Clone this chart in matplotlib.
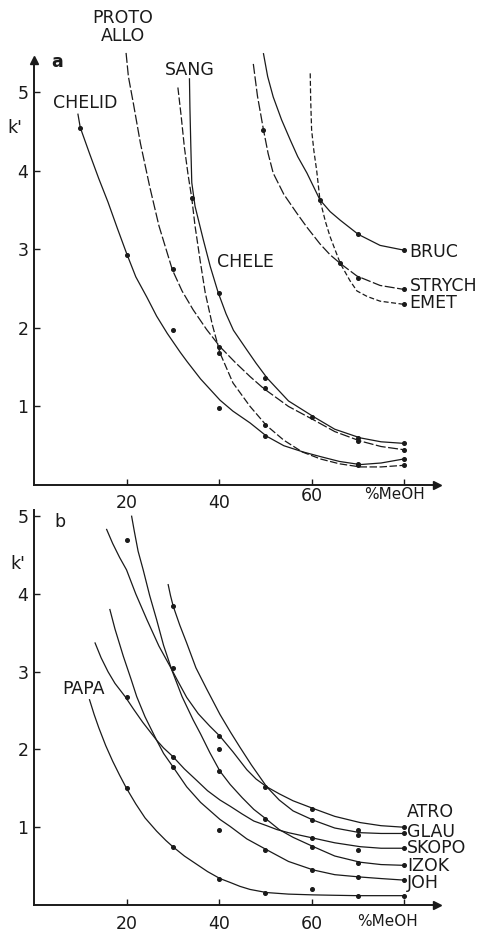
import matplotlib
matplotlib.use("Agg")
import matplotlib.pyplot as plt

# ---- panel a: k' vs %MeOH (curves) ----
chelid_x = [9.5, 10, 12, 14, 16, 18, 20, 22, 24.4, 26.5, 28.8, 31.6, 33.1, 36, 40.2, 43, 46.7, 50.3, 54, 58.2, 62, 66, 70.5, 75, 79.8]
chelid_k = [4.72, 4.55, 4.22, 3.9, 3.6, 3.27, 2.95, 2.65, 2.39, 2.15, 1.93, 1.69, 1.57, 1.35, 1.08, 0.94, 0.79, 0.62, 0.5, 0.42, 0.36, 0.3, 0.26, 0.28, 0.33]
proto_x = [19.9, 20.4, 21.5, 23, 25, 27, 29.9, 32, 34.4, 37.3, 40.2, 43.5, 46.7, 49.6, 55, 60.4, 65, 70.5, 75, 79.8]
proto_k = [5.5, 5.2, 4.85, 4.35, 3.8, 3.3, 2.74, 2.47, 2.23, 1.98, 1.76, 1.56, 1.38, 1.23, 1.0, 0.83, 0.68, 0.56, 0.49, 0.45]
sang_x = [31.1, 31.8, 32.5, 33.3, 34.1, 34.8, 35.9, 37, 38.5, 40.2, 43, 46.7, 50.2, 54, 58, 62, 66, 70.5, 75, 79.8]
sang_k = [5.06, 4.7, 4.3, 3.95, 3.65, 3.3, 2.86, 2.45, 2.05, 1.68, 1.3, 1.0, 0.76, 0.57, 0.42, 0.33, 0.27, 0.23, 0.23, 0.25]
chele_x = [33.6, 33.7, 33.9, 34.1, 34.8, 36.6, 38.1, 39.8, 41.5, 43.1, 46, 48, 50.4, 55, 60.4, 65, 70.5, 75, 79.9]
chele_k = [5.17, 4.8, 4.3, 3.85, 3.55, 3.12, 2.78, 2.45, 2.18, 1.97, 1.72, 1.55, 1.36, 1.07, 0.87, 0.71, 0.6, 0.55, 0.53]
bruc_x = [49.6, 50.5, 51.7, 53.5, 55.4, 57, 59, 61.8, 64, 66.2, 70.1, 74.8, 79.9]
bruc_k = [5.49, 5.2, 4.94, 4.65, 4.39, 4.18, 3.97, 3.63, 3.48, 3.37, 3.19, 3.05, 2.99]
strych_x = [47.4, 48.3, 49.6, 50.6, 51.7, 54, 56.8, 59, 61.8, 64, 66.2, 69.8, 74.8, 79.9]
strych_k = [5.36, 4.95, 4.52, 4.22, 3.97, 3.7, 3.46, 3.28, 3.07, 2.93, 2.82, 2.66, 2.54, 2.49]
emet_x = [59.7, 59.8, 60, 60.5, 61.1, 61.8, 63, 64, 66.2, 68.3, 69.8, 72, 74.8, 79.9]
emet_k = [5.24, 4.9, 4.52, 4.25, 4.0, 3.63, 3.35, 3.16, 2.82, 2.6, 2.47, 2.4, 2.34, 2.30]

a_dot_x = [10, 20, 30, 40, 50, 70, 80, 30, 40, 50, 70, 80, 34.1, 40, 50, 70, 80,
           40, 50, 60, 70, 80, 61.8, 70, 80, 49.6, 66.2, 70, 80, 80]
a_dot_k = [4.55, 2.93, 1.97, 0.98, 0.63, 0.25, 0.33, 2.75, 1.76, 1.23, 0.56, 0.45, 3.65, 1.68, 0.76, 0.27, 0.25,
           2.45, 1.36, 0.87, 0.6, 0.53, 3.63, 3.2, 2.99, 4.52, 2.82, 2.63, 2.49, 2.30]

# ---- panel b ----
atro_x = [15.7, 17, 18.5, 20, 22, 24.4, 27, 29.4, 30.9, 33, 35.5, 38, 40.2, 43, 46, 48, 50.3, 53, 56, 60.4, 65, 70.5, 75, 80]
atro_k = [4.83, 4.65, 4.47, 4.31, 4.0, 3.67, 3.33, 3.07, 2.9, 2.67, 2.46, 2.3, 2.17, 1.97, 1.74, 1.62, 1.52, 1.43, 1.34, 1.24, 1.14, 1.06, 1.02, 1.0]
glau_x = [29, 29.5, 30.1, 31.5, 33, 35, 37.3, 40.2, 42.5, 44.5, 47, 50.3, 53, 56, 60.4, 65, 70.5, 75, 80]
glau_k = [4.12, 3.98, 3.84, 3.6, 3.37, 3.05, 2.78, 2.45, 2.22, 2.03, 1.8, 1.52, 1.35, 1.21, 1.09, 0.99, 0.93, 0.92, 0.92]
izok_x = [21.1, 21.7, 22.5, 23.6, 25, 26.5, 28, 29.8, 32, 34.4, 36, 38, 40.2, 42.4, 45, 47.5, 50.3, 53, 56, 60.4, 65, 70.5, 75, 80]
izok_k = [5.0, 4.8, 4.55, 4.31, 3.98, 3.67, 3.34, 3.02, 2.68, 2.38, 2.2, 1.96, 1.72, 1.55, 1.38, 1.23, 1.1, 0.97, 0.87, 0.75, 0.63, 0.55, 0.52, 0.51]
skopo_x = [13.2, 14.5, 16, 17.5, 19.7, 21.5, 23.5, 26.5, 28, 30, 32.5, 35.2, 37.5, 40.2, 42.4, 45, 47.5, 50.3, 52.5, 55, 60.4, 65, 70.5, 75, 80]
skopo_k = [3.37, 3.18, 3.0, 2.85, 2.68, 2.52, 2.35, 2.12, 2.02, 1.91, 1.75, 1.6, 1.47, 1.35, 1.27, 1.17, 1.08, 1.02, 0.97, 0.93, 0.86, 0.8, 0.75, 0.73, 0.73]
joh_x = [16.4, 17.5, 19.3, 21, 22.2, 24, 26.5, 28, 30, 33, 36, 40.2, 42.4, 46, 50.3, 55, 60.4, 65, 70.5, 75, 80]
joh_k = [3.8, 3.55, 3.2, 2.9, 2.68, 2.42, 2.12, 1.95, 1.78, 1.52, 1.32, 1.1, 1.01, 0.85, 0.71, 0.56, 0.45, 0.39, 0.36, 0.34, 0.32]
papa_x = [12, 13, 14, 15.5, 17, 18.5, 20, 22, 24, 26.5, 28.5, 30, 32.5, 35, 37.5, 40.2, 42.4, 44.5, 46.7, 50.3, 55, 60.4, 65, 70, 75, 80]
papa_k = [2.64, 2.45, 2.28, 2.05, 1.85, 1.67, 1.5, 1.3, 1.12, 0.95, 0.83, 0.75, 0.63, 0.53, 0.43, 0.34, 0.29, 0.24, 0.2, 0.16, 0.14, 0.13, 0.125, 0.12, 0.12, 0.12]

b_dot_x = [20, 30, 30, 40, 40, 40, 50, 60, 60, 70, 70, 80, 80,
           20, 30, 30, 40, 50, 50, 60, 60, 60, 70, 70, 70, 80, 80, 80,
           20, 30, 40, 50, 60, 70, 80]
b_dot_k = [4.7, 3.84, 3.05, 2.17, 2.0, 1.72, 1.52, 1.24, 1.09, 0.97, 0.9, 1.0, 0.92,
           2.68, 1.9, 1.78, 0.97, 1.1, 0.71, 0.86, 0.75, 0.45, 0.71, 0.54, 0.36, 0.73, 0.51, 0.32,
           1.5, 0.75, 0.34, 0.16, 0.21, 0.12, 0.12]

x_ticks = [20, 40, 60, 80]
y_ticks = [1, 2, 3, 4, 5]

INK = "#1a1a1a"
FS = 12.5

fig = plt.figure(figsize=(4.87, 9.32), dpi=100)
W, H = 487, 932


def make_axes(top_px, bottom_px, ymax):
    ax = fig.add_axes([34 / W, (H - bottom_px) / H, 403 / W, (bottom_px - top_px) / H])
    ax.set_xlim(0, 87.1)
    ax.set_ylim(0, ymax)
    for side in ("top", "right"):
        ax.spines[side].set_visible(False)
    for side in ("left", "bottom"):
        ax.spines[side].set_linewidth(1.4)
        ax.spines[side].set_color(INK)
    ax.set_xticks(x_ticks)
    ax.set_yticks(y_ticks)
    ax.tick_params(direction="in", length=4, width=1, colors=INK, labelsize=FS)
    ax.tick_params(axis="y", pad=4)
    ax.plot([87.1], [0], marker=">", ms=6, color=INK, clip_on=False)
    return ax


def curve(ax, xs, ks, ls="-"):
    ax.plot(xs, ks, color=INK, lw=0.9, ls=ls, clip_on=False)


ax_a = make_axes(60, 485, 5.41)
ax_a.plot([0], [5.41], marker="^", ms=6, color=INK, clip_on=False)
ax_a.set_xticklabels([])
curve(ax_a, chelid_x, chelid_k)
curve(ax_a, proto_x, proto_k, ls=(0, (8, 2)))
curve(ax_a, sang_x, sang_k, ls=(0, (6, 2)))
curve(ax_a, chele_x, chele_k)
curve(ax_a, bruc_x, bruc_k)
curve(ax_a, strych_x, strych_k, ls=(0, (8, 2)))
curve(ax_a, emet_x, emet_k, ls=(0, (4, 2)))
ax_a.plot(a_dot_x, a_dot_k, "o", ms=2.6, color=INK, clip_on=False)

ax_a.text(20, -0.12, "20", ha="center", va="top", fontsize=FS, color=INK)
ax_a.text(40, -0.12, "40", ha="center", va="top", fontsize=FS, color=INK)
ax_a.text(60, -0.02, "60", ha="center", va="top", fontsize=FS, color=INK)
ax_a.text(78, -0.02, "%MeOH", ha="center", va="top", fontsize=FS - 1.5, color=INK)
ax_a.text(5, 5.38, "a", ha="center", va="center", fontsize=FS, fontweight="bold", color=INK)
ax_a.text(-4.1, 4.54, "k'", ha="center", va="center", fontsize=FS, color=INK)
ax_a.text(19.2, 5.95, "PROTO", ha="center", va="center", fontsize=FS, color=INK)
ax_a.text(19.2, 5.72, "ALLO", ha="center", va="center", fontsize=FS, color=INK)
ax_a.text(33.7, 5.28, "SANG", ha="center", va="center", fontsize=FS, color=INK)
ax_a.text(11, 4.86, "CHELID", ha="center", va="center", fontsize=FS, color=INK)
ax_a.text(45.8, 2.84, "CHELE", ha="center", va="center", fontsize=FS, color=INK)
ax_a.text(81.2, 2.96, "BRUC", ha="left", va="center", fontsize=FS, color=INK)
ax_a.text(81.2, 2.53, "STRYCH", ha="left", va="center", fontsize=FS, color=INK)
ax_a.text(81.2, 2.32, "EMET", ha="left", va="center", fontsize=FS, color=INK)

ax_b = make_axes(510, 905, 5.08)
ax_b.tick_params(axis="x", pad=7)
curve(ax_b, atro_x, atro_k)
curve(ax_b, glau_x, glau_k)
curve(ax_b, izok_x, izok_k)
curve(ax_b, skopo_x, skopo_k)
curve(ax_b, joh_x, joh_k)
curve(ax_b, papa_x, papa_k)
ax_b.plot(b_dot_x, b_dot_k, "o", ms=2.6, color=INK, clip_on=False)
ax_b.set_xticklabels(["20", "40", "60", ""])
ax_b.text(76.5, -0.21, "%MeOH", ha="center", va="center", fontsize=FS - 1.5, color=INK)
ax_b.text(5.6, 4.93, "b", ha="center", va="center", fontsize=FS, color=INK)
ax_b.text(-3.5, 4.39, "k'", ha="center", va="center", fontsize=FS, color=INK)
ax_b.text(10.6, 2.78, "PAPA", ha="center", va="center", fontsize=FS, color=INK)
for name, yk in [("ATRO", 1.2), ("GLAU", 0.94), ("SKOPO", 0.73), ("IZOK", 0.5), ("JOH", 0.28)]:
    ax_b.text(80.6, yk, name, ha="left", va="center", fontsize=FS, color=INK)

fig.savefig("out.png", dpi=100)
